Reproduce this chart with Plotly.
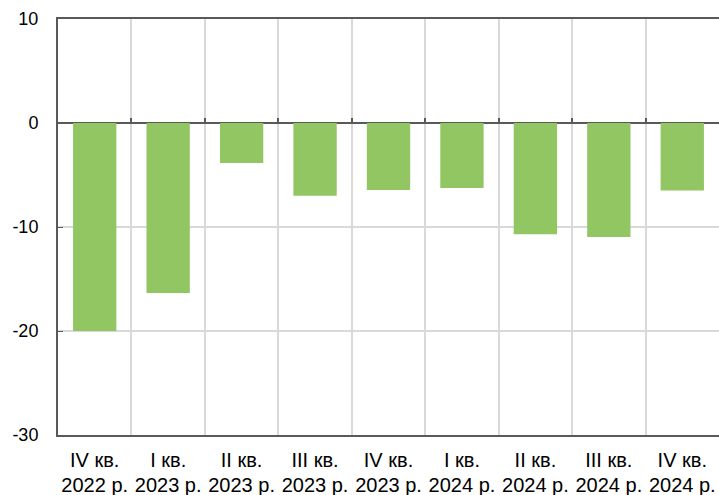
import plotly.graph_objects as go

quarters = ["IV кв.", "I кв.", "II кв.", "III кв.", "IV кв.", "I кв.", "II кв.", "III кв.", "IV кв."]
years = ["2022 р.", "2023 р.", "2023 р.", "2023 р.", "2023 р.", "2024 р.", "2024 р.", "2024 р.", "2024 р."]
values = [-20.0, -16.35, -3.85, -7.0, -6.45, -6.25, -10.7, -10.95, -6.5]
y_ticks = [10, 0, -10, -20, -30]
y_tick_text = ["10", "0", "-10", "-20", "-30"]

x = list(range(len(quarters)))
boundaries = [i + 0.5 for i in x[:-1]]
y_min, y_max = -30, 10
x_range = [-0.5, len(quarters) - 0.5]

fig = go.Figure()
fig.add_trace(go.Bar(x=x, y=values, width=0.59, marker=dict(color="#92C663", line=dict(width=0)),
                     showlegend=False))
# invisible helper traces so the overlay axes get drawn
for ax in ["x2", "x3"]:
    fig.add_trace(go.Scatter(x=x, y=values, xaxis=ax, mode="markers", marker=dict(opacity=0),
                             hoverinfo="skip", showlegend=False))

fig.update_layout(
    width=719, height=495,
    margin=dict(l=58, r=0, t=19, b=60),
    plot_bgcolor="white", paper_bgcolor="white",
    font=dict(family="Arial, Liberation Sans, sans-serif", size=18, color="black"),
    xaxis=dict(
        range=x_range, automargin=False,
        tickvals=x, ticktext=quarters, showgrid=False, ticklabelstandoff=6,
        minor=dict(tickvals=boundaries, showgrid=True, gridcolor="#d9d9d9", gridwidth=1.5, ticks=""),
        showline=True, linecolor="#595959", linewidth=2, mirror=True, ticks="", zeroline=False,
        tickfont=dict(size=20),
    ),
    xaxis2=dict(overlaying="x", anchor="free", position=(0 - y_min) / (y_max - y_min), side="top",
                range=x_range, tickvals=boundaries, showticklabels=False,
                ticks="outside", ticklen=5, tickwidth=1.5, tickcolor="#595959",
                showgrid=False, showline=False, zeroline=False),
    xaxis3=dict(overlaying="x", anchor="y", side="bottom", automargin=False,
                range=x_range, tickvals=x, ticktext=years, ticks="", ticklabelstandoff=36,
                tickfont=dict(size=20), showgrid=False, showline=False, zeroline=False),
    yaxis=dict(
        range=[y_min, y_max], automargin=False, tickvals=y_ticks, ticktext=y_tick_text,
        showgrid=True, gridcolor="#d9d9d9", gridwidth=1.5,
        zeroline=True, zerolinecolor="#595959", zerolinewidth=1.5,
        showline=True, linecolor="#595959", linewidth=2,
        ticks="inside", ticklen=5, tickwidth=1, tickcolor="#595959",
        ticklabelstandoff=14, tickfont=dict(size=18),
    ),
)
fig.write_html("out.html", config={"displayModeBar": False},
               post_script="document.body.style.margin='0';document.body.style.overflow='hidden';")
